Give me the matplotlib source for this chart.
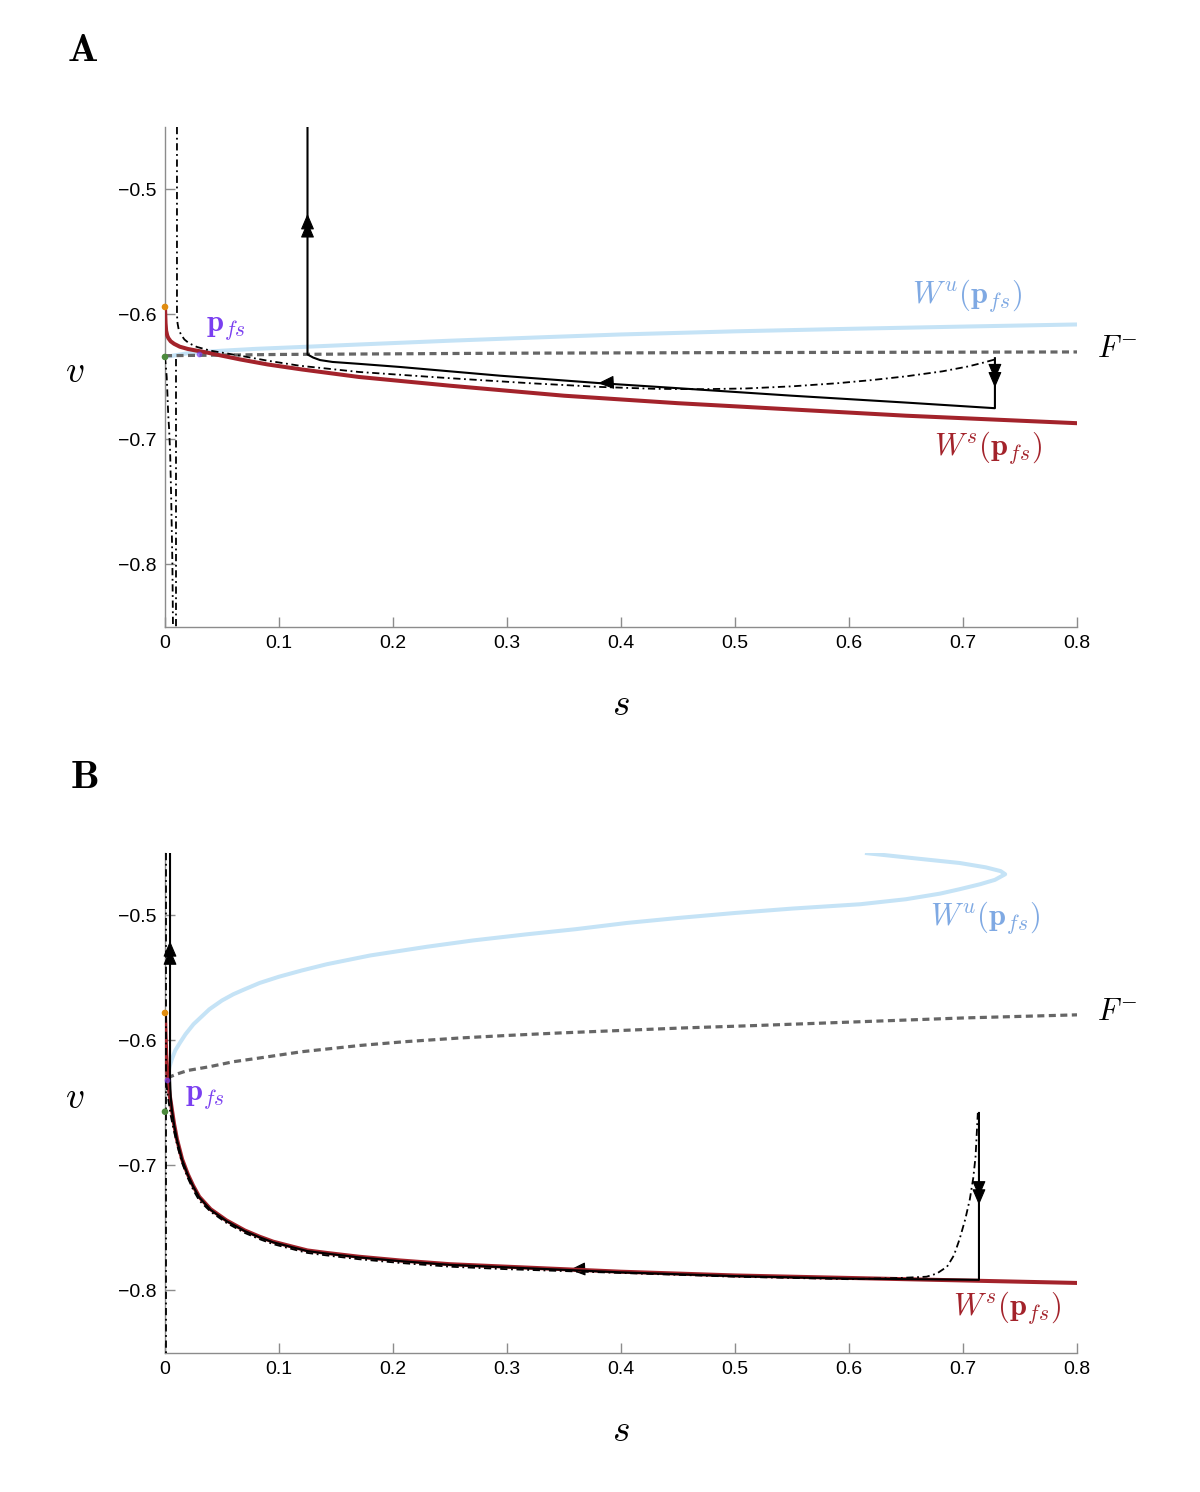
import matplotlib.pyplot as plt
import numpy as np

plt.rcParams['mathtext.fontset'] = 'cm'
plt.rcParams['font.family'] = ['Liberation Sans', 'DejaVu Sans']

# ---------------- panel A ----------------
ws_a_s = [0.0, 0.0005, 0.001, 0.002, 0.003, 0.005, 0.008, 0.013, 0.02, 0.028, 0.037, 0.05,
          0.066, 0.09, 0.12, 0.17, 0.25, 0.35, 0.45, 0.55, 0.65, 0.8]
ws_a_v = [-0.594, -0.607, -0.613, -0.617, -0.619, -0.6215, -0.6235, -0.6258, -0.6276, -0.629,
          -0.6305, -0.633, -0.636, -0.640, -0.644, -0.650, -0.657, -0.665, -0.671, -0.676,
          -0.681, -0.687]

wu_a_s = [0.0, 0.02, 0.05, 0.08, 0.12, 0.171, 0.25, 0.338, 0.4, 0.5, 0.6, 0.7, 0.8]
wu_a_v = [-0.634, -0.631, -0.629, -0.6275, -0.626, -0.624, -0.621, -0.618, -0.616, -0.6135,
          -0.6115, -0.6097, -0.608]

fm_a_s = [0.0, 0.1, 0.3, 0.5, 0.8]
fm_a_v = [-0.633, -0.632, -0.631, -0.6305, -0.630]

traj_a_s = [0.728, 0.728, 0.65, 0.55, 0.45, 0.382, 0.294, 0.206, 0.17, 0.147, 0.136, 0.13,
            0.127, 0.125, 0.125]
traj_a_v = [-0.635, -0.675, -0.6705, -0.665, -0.659, -0.655, -0.649, -0.642, -0.6395, -0.638,
            -0.6365, -0.6345, -0.633, -0.632, -0.45]

dd1_a_s = [0.0105, 0.0105, 0.011, 0.012, 0.014, 0.017, 0.021, 0.028, 0.04, 0.066, 0.09, 0.118,
           0.17, 0.25, 0.32, 0.382, 0.43, 0.47, 0.51, 0.55, 0.59, 0.62, 0.65, 0.682, 0.705,
           0.718, 0.728]
dd1_a_v = [-0.45, -0.600, -0.607, -0.612, -0.616, -0.620, -0.623, -0.626, -0.629, -0.633,
           -0.637, -0.641, -0.646, -0.651, -0.655, -0.658, -0.6595, -0.6598, -0.6592, -0.6575,
           -0.655, -0.6525, -0.6495, -0.6455, -0.6415, -0.6385, -0.636]
dd2_a_s = [0.0, 0.0008, 0.0015, 0.0022, 0.0028, 0.0035, 0.0045, 0.0055, 0.0065, 0.007]
dd2_a_v = [-0.634, -0.642, -0.65, -0.665, -0.68, -0.69, -0.71, -0.75, -0.80, -0.85]
dd3_a_s = [0.0096, 0.0096]
dd3_a_v = [-0.636, -0.85]

dots_a_s = [0.0, 0.0]
dots_a_v = [-0.594, -0.634]
pfs_a = (0.03, -0.632)

# fleches sur la trajectoire noire (s, v, sens, nombre de pointes)
arrows_a = [(0.125, -0.526, 'up', 2), (0.728, -0.652, 'down', 2), (0.38, -0.655, 'left', 1)]

# ---------------- panel B ----------------
ws_b_s = [0.0, 0.0005, 0.001, 0.002, 0.003, 0.004, 0.006, 0.008, 0.0105, 0.015, 0.02, 0.0246,
          0.03, 0.04, 0.054, 0.07, 0.083, 0.095, 0.112, 0.125, 0.142, 0.17, 0.206, 0.25, 0.3,
          0.4, 0.5, 0.6, 0.7, 0.8]
ws_b_v = [-0.578, -0.595, -0.610, -0.625, -0.635, -0.643, -0.655, -0.667, -0.679, -0.695,
          -0.707, -0.716, -0.725, -0.735, -0.744, -0.752, -0.757, -0.761, -0.765, -0.768,
          -0.770, -0.773, -0.776, -0.779, -0.781, -0.785, -0.788, -0.790, -0.792, -0.794]

wu_b_s = [0.002, 0.0025, 0.004, 0.006, 0.009, 0.013, 0.018, 0.025, 0.032, 0.039, 0.05, 0.06,
          0.07, 0.083, 0.1, 0.12, 0.142, 0.18, 0.23, 0.27, 0.318, 0.36, 0.405, 0.45, 0.5,
          0.55, 0.61, 0.65, 0.68, 0.697, 0.715, 0.728, 0.737, 0.733, 0.72, 0.697, 0.66, 0.614]
wu_b_v = [-0.632, -0.628, -0.621, -0.615, -0.608, -0.602, -0.595, -0.587, -0.581, -0.575,
          -0.568, -0.563, -0.559, -0.554, -0.549, -0.544, -0.539, -0.532, -0.525, -0.520,
          -0.515, -0.511, -0.506, -0.502, -0.498, -0.4945, -0.491, -0.487, -0.4825, -0.479,
          -0.475, -0.4715, -0.467, -0.4645, -0.4615, -0.458, -0.4545, -0.450]

fm_b_s = [0.002, 0.01, 0.02, 0.039, 0.06, 0.083, 0.12, 0.171, 0.21, 0.259, 0.3, 0.346, 0.4,
          0.454, 0.52, 0.61, 0.7, 0.8]
fm_b_v = [-0.630, -0.627, -0.624, -0.621, -0.617, -0.614, -0.609, -0.604, -0.601, -0.598,
          -0.596, -0.594, -0.592, -0.590, -0.588, -0.585, -0.582, -0.5795]

traj_b_s = [0.714, 0.714, 0.6, 0.5, 0.4, 0.3, 0.25, 0.206, 0.17, 0.142, 0.125, 0.112, 0.095,
            0.083, 0.07, 0.054, 0.04, 0.03, 0.0246, 0.02, 0.015, 0.0105, 0.008, 0.006, 0.005,
            0.0044, 0.0044]
traj_b_v = [-0.658, -0.7915, -0.7905, -0.7885, -0.7855, -0.7815, -0.7795, -0.7765, -0.7735,
            -0.7705, -0.7685, -0.7655, -0.7615, -0.7575, -0.7525, -0.7445, -0.7355, -0.7255,
            -0.7165, -0.7075, -0.6955, -0.6795, -0.6675, -0.6555, -0.645, -0.630, -0.45]

dd1_b_s = [0.0008, 0.0008]
dd1_b_v = [-0.45, -0.85]
dd2_b_s = [0.001, 0.003, 0.005, 0.008, 0.011, 0.015, 0.02, 0.025, 0.03, 0.04, 0.054, 0.07,
           0.083, 0.095, 0.112, 0.125, 0.142, 0.17, 0.206, 0.25, 0.3, 0.4, 0.5, 0.6, 0.645,
           0.668, 0.677, 0.686, 0.692, 0.697, 0.702, 0.706, 0.709, 0.711, 0.713]
dd2_b_v = [-0.634, -0.648, -0.660, -0.673, -0.685, -0.698, -0.710, -0.720, -0.728, -0.737,
           -0.746, -0.754, -0.759, -0.763, -0.767, -0.770, -0.772, -0.775, -0.778, -0.781,
           -0.783, -0.786, -0.789, -0.791, -0.790, -0.789, -0.7865, -0.781, -0.772, -0.759,
           -0.743, -0.727, -0.710, -0.693, -0.658]

dots_b_s = [0.0, 0.0]
dots_b_v = [-0.578, -0.657]
pfs_b = (0.002, -0.632)

arrows_b = [(0.0044, -0.527, 'up', 2), (0.714, -0.725, 'down', 2), (0.355, -0.7835, 'left', 1)]

x_ticks = [0, 0.1, 0.2, 0.3, 0.4, 0.5, 0.6, 0.7, 0.8]
x_tick_labels = ['0', '0.1', '0.2', '0.3', '0.4', '0.5', '0.6', '0.7', '0.8']
y_ticks = [-0.8, -0.7, -0.6, -0.5]

RED = '#a3232b'
BLUE = '#c5e3f6'
BLUE_TXT = '#7fa9e3'
GRAY = '#666666'
PURPLE = '#7a3ff0'
DOT_COLORS = ['#e08c10', '#4b8a3c']


def draw_arrow(ax, s, v, direction, n):
    """Pointe(s) de fleche sur la trajectoire."""
    dv = 0.0065
    ds = 0.008
    for k in range(n):
        if direction == 'up':
            tip, tail = (s, v + k * dv), (s, v + k * dv - 0.004)
        elif direction == 'down':
            tip, tail = (s, v - k * dv), (s, v - k * dv + 0.004)
        else:
            tip, tail = (s - k * ds, v), (s - k * ds + 0.004, v + 0.0002)
        ax.annotate('', xy=tip, xytext=tail,
                    arrowprops=dict(arrowstyle='-|>,head_length=0.7,head_width=0.3',
                                    color='k', lw=0.8, shrinkA=0, shrinkB=0,
                                    mutation_scale=14))


def setup_axes(ax):
    ax.set_xlim(0, 0.8)
    ax.set_ylim(-0.85, -0.45)
    for side in ['top', 'right']:
        ax.spines[side].set_visible(False)
    for side in ['left', 'bottom']:
        ax.spines[side].set_color('#8c8c8c')
        ax.spines[side].set_linewidth(1.0)
    ax.set_xticks(x_ticks)
    ax.set_xticklabels(x_tick_labels)
    ax.set_yticks(y_ticks)
    ax.tick_params(direction='in', length=7, width=1.0, color='#8c8c8c',
                   labelsize=14, pad=6)
    ax.text(-0.099, 0.51, '$v$', transform=ax.transAxes, fontsize=27,
            ha='center', va='center')
    ax.text(0.5, -0.157, '$s$', transform=ax.transAxes, fontsize=27,
            ha='center', va='center')


def draw_panel(ax, ws, wu, fm, traj, dds, dots, pfs, arrows, labels):
    ax.plot(wu[0], wu[1], color=BLUE, lw=2.9, solid_capstyle='butt', zorder=2)
    ax.plot(fm[0], fm[1], color=GRAY, lw=2.3, dashes=(2.2, 1.4), zorder=3)
    ax.plot(ws[0], ws[1], color=RED, lw=2.9, zorder=4)
    for dd in dds:
        ax.plot(dd[0], dd[1], color='k', lw=1.3, dashes=(4, 2, 1, 2), zorder=5)
    ax.plot(traj[0], traj[1], color='k', lw=1.5, zorder=6)
    for s, v, d, n in arrows:
        draw_arrow(ax, s, v, d, n)
    ax.scatter(dots[0], dots[1], s=14, c=DOT_COLORS, zorder=7, clip_on=False)
    ax.scatter([pfs[0]], [pfs[1]], s=10, c=PURPLE, alpha=0.6, zorder=7, clip_on=False)
    (p_xy, wu_xy, ws_xy, f_xy) = labels
    ax.text(*p_xy, r'$\mathbf{p}_{fs}$', color=PURPLE, fontsize=22,
            ha='center', va='center')
    ax.text(*wu_xy, r'$W^u(\mathbf{p}_{fs})$', color=BLUE_TXT, fontsize=22,
            ha='center', va='center')
    ax.text(*ws_xy, r'$W^s(\mathbf{p}_{fs})$', color=RED, fontsize=22,
            ha='center', va='center')
    ax.text(*f_xy, r'$F^{-}$', color='k', fontsize=22, ha='center', va='center',
            clip_on=False)


fig = plt.figure(figsize=(12, 14.92), dpi=100)
ax_a = fig.add_axes([0.1375, 0.5798, 0.76, 0.3351])
ax_b = fig.add_axes([0.1375, 0.0932, 0.76, 0.3351])

setup_axes(ax_a)
draw_panel(ax_a, (ws_a_s, ws_a_v), (wu_a_s, wu_a_v), (fm_a_s, fm_a_v),
           (traj_a_s, traj_a_v),
           [(dd1_a_s, dd1_a_v), (dd2_a_s, dd2_a_v), (dd3_a_s, dd3_a_v)],
           (dots_a_s, dots_a_v), pfs_a, arrows_a,
           ((0.0535, -0.6104), (0.7035, -0.5848), (0.722, -0.7064), (0.835, -0.628)))

setup_axes(ax_b)
draw_panel(ax_b, (ws_b_s, ws_b_v), (wu_b_s, wu_b_v), (fm_b_s, fm_b_v),
           (traj_b_s, traj_b_v),
           [(dd1_b_s, dd1_b_v), (dd2_b_s, dd2_b_v)],
           (dots_b_s, dots_b_v), pfs_b, arrows_b,
           ((0.035, -0.6448), (0.719, -0.5016), (0.739, -0.8136), (0.835, -0.5776)))

fig.text(0.069, 0.9665, r'$\mathbf{A}$', fontsize=29, ha='center', va='center')
fig.text(0.070, 0.479, r'$\mathbf{B}$', fontsize=29, ha='center', va='center')

fig.savefig('out.png', dpi=100)
